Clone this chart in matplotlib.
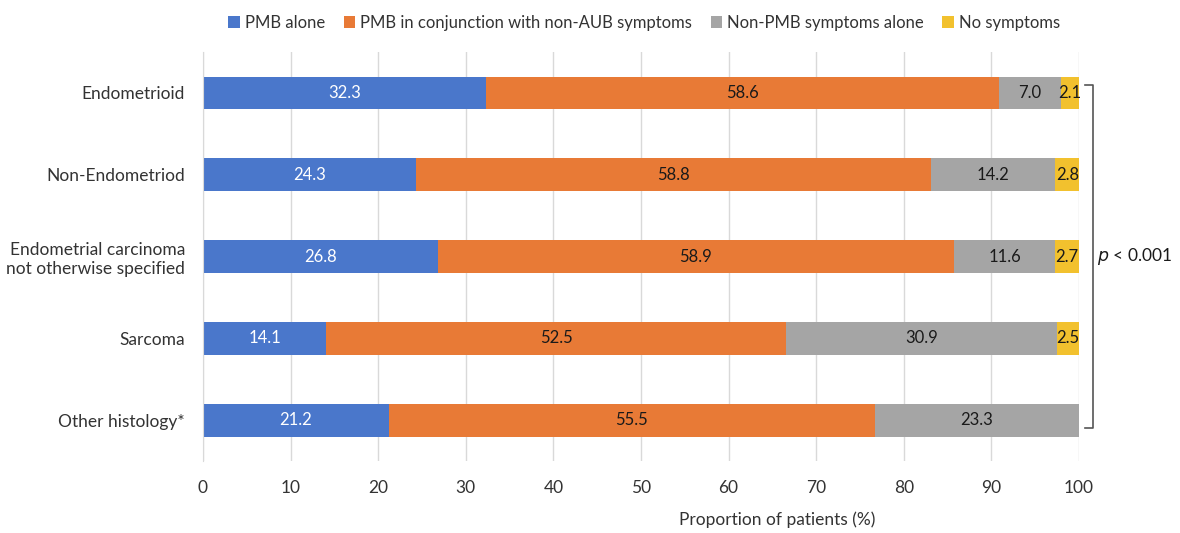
import matplotlib.pyplot as plt
import numpy as np

plt.rcParams['font.family'] = ['Lato', 'DejaVu Sans']

categories = ["Endometrioid", "Non-Endometriod",
              "Endometrial carcinoma\nnot otherwise specified",
              "Sarcoma", "Other histology*"]
series_names = ["PMB alone", "PMB in conjunction with non-AUB symptoms",
                "Non-PMB symptoms alone", "No symptoms"]
pmb_alone = [32.3, 24.3, 26.8, 14.1, 21.2]
pmb_conj = [58.6, 58.8, 58.9, 52.5, 55.5]
non_pmb = [7.0, 14.2, 11.6, 30.9, 23.3]
no_symp = [2.1, 2.8, 2.7, 2.5, 0.0]
colors = ["#4A77CB", "#E87A36", "#A5A5A5", "#F2C12E"]
text_colors = ["white", "#1a1a1a", "#1a1a1a", "#1a1a1a"]

fig = plt.figure(figsize=(11.8, 5.33), dpi=100)
ax = fig.add_axes([0.172, 0.135, 0.7424, 0.7675])

y = np.arange(len(categories))
left = np.zeros(len(categories))
for vals, name, c, tc in zip([pmb_alone, pmb_conj, non_pmb, no_symp], series_names, colors, text_colors):
    vals = np.array(vals)
    bars = ax.barh(y, vals, left=left, height=0.4, color=c, label=name, zorder=3)
    for b, v, l in zip(bars, vals, left):
        if v > 0:
            ax.text(l + v / 2, b.get_y() + b.get_height() / 2, f"{v:.1f}",
                    ha="center", va="center", color=tc, fontsize=12, zorder=4)
    left += vals

ax.set_xlim(0, 100)
ax.set_ylim(4.5, -0.5)
ax.set_xticks(range(0, 101, 10))
ax.set_yticks(y)
ax.set_yticklabels(categories, fontsize=12.5, color="#333333")
ax.tick_params(axis="x", labelsize=12.5, colors="#333333", length=0, pad=14)
ax.tick_params(axis="y", length=0, pad=13)
ax.grid(axis="x", color="#D9D9D9", linewidth=1, zorder=0)
for s in ["top", "right", "bottom"]:
    ax.spines[s].set_visible(False)
ax.spines["left"].set_color("#D9D9D9")
ax.spines["left"].set_zorder(5)

fig.text(0.659, 0.025, "Proportion of patients (%)", ha="center", va="center",
         fontsize=12.5, color="#333333")

# bracket with p-value
ax.plot([100.7, 101.6, 101.6, 100.7], [-0.1, -0.1, 4.1, 4.1], color="#555555",
        linewidth=1.2, clip_on=False)
ax.text(102.0, 2.0, "$\\it{p}$ < 0.001", ha="left", va="center", fontsize=12.5,
        color="#1a1a1a")

fig.legend(loc="upper center", bbox_to_anchor=(0.546, 1.0), ncol=4, frameon=False,
           fontsize=12, handlelength=0.7, handleheight=0.7, handletextpad=0.3,
           columnspacing=1.1, labelcolor="#333333")

fig.savefig("out.png", dpi=100)
